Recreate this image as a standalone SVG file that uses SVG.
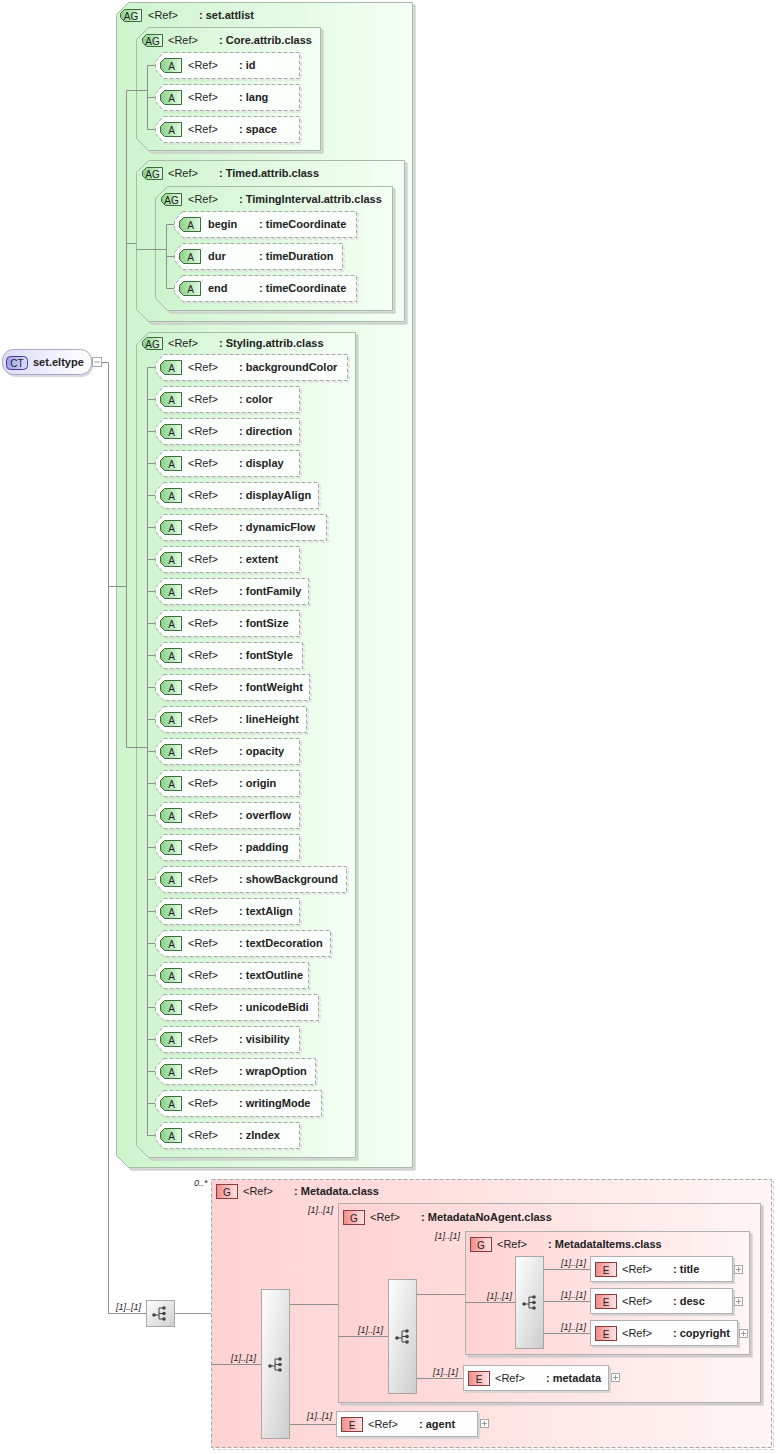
<svg xmlns="http://www.w3.org/2000/svg" width="780" height="1454" viewBox="0 0 780 1454">
<defs>
<linearGradient id="gG" x1="0" y1="0" x2="1" y2="0"><stop offset="0" stop-color="#cdf4cd"/><stop offset="1" stop-color="#f5fff5"/></linearGradient>
<linearGradient id="gP" x1="0" y1="0" x2="1" y2="0"><stop offset="0" stop-color="#ffd2d2"/><stop offset="1" stop-color="#fff5f5"/></linearGradient>
<linearGradient id="gSeq" x1="0" y1="0" x2="1" y2="1"><stop offset="0" stop-color="#ffffff"/><stop offset="1" stop-color="#cdcdcd"/></linearGradient>
<linearGradient id="gA" x1="0" y1="0" x2="1" y2="0"><stop offset="0" stop-color="#86d086"/><stop offset="1" stop-color="#e6fbe6"/></linearGradient>
<linearGradient id="gE" x1="0" y1="0" x2="1" y2="0"><stop offset="0" stop-color="#f08a8a"/><stop offset="1" stop-color="#ffe6e6"/></linearGradient>
<linearGradient id="gCT" x1="0" y1="0" x2="1" y2="0"><stop offset="0" stop-color="#9c9cec"/><stop offset="1" stop-color="#dedeff"/></linearGradient>
<linearGradient id="gCTn" x1="0" y1="0" x2="1" y2="0"><stop offset="0" stop-color="#dcdcfa"/><stop offset="1" stop-color="#ffffff"/></linearGradient>
<g id="seqIcon">
<circle cx="-6" cy="2" r="1.8" fill="#444"/>
<path d="M-6,2 H-1 M-1,-5 V6 M-1,-5 H3 M-1,0.5 H3 M-1,6 H3" stroke="#444" stroke-width="1" fill="none"/>
<circle cx="4" cy="-5" r="1.8" fill="#444"/>
<circle cx="4" cy="0.5" r="1.8" fill="#444"/>
<circle cx="4" cy="6" r="1.8" fill="#444"/>
</g>
</defs>
<style>
.t{font-family:"Liberation Sans",Arial,sans-serif;font-size:11px;fill:#222}
.b{font-weight:bold}
.bd{font-size:10px;text-anchor:middle;fill:#222}
.lb{font-family:"Liberation Sans",Arial,sans-serif;font-size:9px;font-style:italic;fill:#222}
.grp{fill:url(#gG);stroke:#a9b9a9;stroke-width:1}
.gsh{fill:#d6dcd6;stroke:#c4c4c4;stroke-width:1}
.att{fill:#fbfffb;stroke:#a8a8a8;stroke-width:1;stroke-dasharray:4 2}
.ash{fill:none;stroke:#d2d2d2;stroke-width:1;stroke-dasharray:4 2}
.bA{fill:url(#gA);stroke:#3d6b3d;stroke-width:1}
.bE{fill:url(#gE);stroke:#8a3c3c;stroke-width:1}
.pgrp{fill:url(#gP);stroke:#b0b0b0;stroke-width:1}
.psh{fill:#d8d0d0;stroke:#c4c4c4;stroke-width:1}
.el{fill:#fefefe;stroke:#b0b0b0;stroke-width:1}
.esh{fill:#d6d6d6;stroke:none}
.seq{fill:url(#gSeq);stroke:#a8a8a8;stroke-width:1}
.btn{fill:#fff;stroke:#a8a8a8;stroke-width:1}
.bl{stroke:#999;stroke-width:1;fill:none}
.c{fill:none;stroke:#8e8e8e;stroke-width:1}
</style>

<g id="set-eltype">
<rect x="5" y="352" width="88" height="25" rx="11" fill="#d8d8e4"/>
<rect x="2.5" y="349.5" width="89" height="25" rx="11" fill="url(#gCTn)" stroke="#a8a8c8"/>
<rect x="6.5" y="356.5" width="21" height="13" rx="4" fill="url(#gCT)" stroke="#404088"/>
<text class="t bd" x="17" y="367">CT</text>
<text class="t b" x="33" y="366">set.eltype</text>
<rect class="btn" x="92.5" y="357.5" width="9" height="9"/>
<path class="bl" d="M94.5,362 H99.5"/>
</g>

<g id="ag-set-attlist">
<path class="gsh" d="M131,5 H415 V1170 H131 L119,1158 V17 Z"/>
<path class="grp" d="M128.5,2.5 H412.5 V1167.5 H128.5 L116.5,1155.5 V14.5 Z"/>
<path class="bA" d="M124.5,9.5 H141.5 V21.5 H124.5 L120.5,17.5 V13.5 Z"/>
<text class="t bd" x="131" y="19.5">AG</text>
<text class="t" x="148" y="19">&lt;Ref&gt;</text>
<text class="t b" x="199" y="19">: set.attlist</text>
</g>

<g id="ag-core">
<path class="gsh" d="M151,30 H323 V153 H151 L139,141 V42 Z"/>
<path class="grp" d="M148.5,27.5 H320.5 V150.5 H148.5 L136.5,138.5 V39.5 Z"/>
<path class="bA" d="M146.5,34.5 H162.5 V46.5 H146.5 L142.5,42.5 V38.5 Z"/>
<text class="t bd" x="152.5" y="44.5">AG</text>
<text class="t" x="168" y="44">&lt;Ref&gt;</text>
<text class="t b" x="219" y="44">: Core.attrib.class</text>
</g>
<g id="a-id"><path class="ash" d="M165,54 H301 V80 H165 L157,71 V63 Z"/><path class="att" d="M163.5,52.5 H299.5 V78.5 H163.5 L155.5,69.5 V61.5 Z"/><path class="bA" d="M164.5,58.5 H181.5 V72.5 H164.5 L160.5,68.5 V62.5 Z"/><text class="t bd" x="171.5" y="69.5">A</text><text class="t" x="188" y="69">&lt;Ref&gt;</text><text class="t b" x="239" y="69">: id</text></g>
<g id="a-lang"><path class="ash" d="M165,86 H301 V112 H165 L157,103 V95 Z"/><path class="att" d="M163.5,84.5 H299.5 V110.5 H163.5 L155.5,101.5 V93.5 Z"/><path class="bA" d="M164.5,90.5 H181.5 V104.5 H164.5 L160.5,100.5 V94.5 Z"/><text class="t bd" x="171.5" y="101.5">A</text><text class="t" x="188" y="101">&lt;Ref&gt;</text><text class="t b" x="239" y="101">: lang</text></g>
<g id="a-space"><path class="ash" d="M165,118 H301 V144 H165 L157,135 V127 Z"/><path class="att" d="M163.5,116.5 H299.5 V142.5 H163.5 L155.5,133.5 V125.5 Z"/><path class="bA" d="M164.5,122.5 H181.5 V136.5 H164.5 L160.5,132.5 V126.5 Z"/><text class="t bd" x="171.5" y="133.5">A</text><text class="t" x="188" y="133">&lt;Ref&gt;</text><text class="t b" x="239" y="133">: space</text></g>

<g id="ag-timed">
<path class="gsh" d="M151,163 H407 V324 H151 L139,312 V175 Z"/>
<path class="grp" d="M148.5,160.5 H404.5 V321.5 H148.5 L136.5,309.5 V172.5 Z"/>
<path class="bA" d="M146.5,167.5 H162.5 V179.5 H146.5 L142.5,175.5 V171.5 Z"/>
<text class="t bd" x="152.5" y="177.5">AG</text>
<text class="t" x="168" y="177">&lt;Ref&gt;</text>
<text class="t b" x="219" y="177">: Timed.attrib.class</text>
</g>
<g id="ag-timinginterval">
<path class="gsh" d="M170,189 H395 V313 H170 L158,301 V201 Z"/>
<path class="grp" d="M167.5,186.5 H392.5 V310.5 H167.5 L155.5,298.5 V198.5 Z"/>
<path class="bA" d="M165.5,193.5 H181.5 V205.5 H165.5 L161.5,201.5 V197.5 Z"/>
<text class="t bd" x="171.5" y="203.5">AG</text>
<text class="t" x="188" y="203">&lt;Ref&gt;</text>
<text class="t b" x="239" y="203">: TimingInterval.attrib.class</text>
</g>
<g id="a-begin"><path class="ash" d="M184,213 H358 V239 H184 L176,230 V222 Z"/><path class="att" d="M182.5,211.5 H356.5 V237.5 H182.5 L174.5,228.5 V220.5 Z"/><path class="bA" d="M183.5,217.5 H200.5 V231.5 H183.5 L179.5,227.5 V221.5 Z"/><text class="t bd" x="190.5" y="228.5">A</text><text class="t b" x="208" y="228">begin</text><text class="t b" x="259" y="228">: timeCoordinate</text></g>
<g id="a-dur"><path class="ash" d="M184,245 H344 V271 H184 L176,262 V254 Z"/><path class="att" d="M182.5,243.5 H342.5 V269.5 H182.5 L174.5,260.5 V252.5 Z"/><path class="bA" d="M183.5,249.5 H200.5 V263.5 H183.5 L179.5,259.5 V253.5 Z"/><text class="t bd" x="190.5" y="260.5">A</text><text class="t b" x="208" y="260">dur</text><text class="t b" x="259" y="260">: timeDuration</text></g>
<g id="a-end"><path class="ash" d="M184,277 H358 V303 H184 L176,294 V286 Z"/><path class="att" d="M182.5,275.5 H356.5 V301.5 H182.5 L174.5,292.5 V284.5 Z"/><path class="bA" d="M183.5,281.5 H200.5 V295.5 H183.5 L179.5,291.5 V285.5 Z"/><text class="t bd" x="190.5" y="292.5">A</text><text class="t b" x="208" y="292">end</text><text class="t b" x="259" y="292">: timeCoordinate</text></g>

<g id="ag-styling">
<path class="gsh" d="M151,335 H358 V1160 H151 L139,1148 V347 Z"/>
<path class="grp" d="M148.5,332.5 H355.5 V1157.5 H148.5 L136.5,1145.5 V344.5 Z"/>
<path class="bA" d="M146.5,337.5 H162.5 V349.5 H146.5 L142.5,345.5 V341.5 Z"/>
<text class="t bd" x="152.5" y="347.5">AG</text>
<text class="t" x="168" y="347">&lt;Ref&gt;</text>
<text class="t b" x="219" y="347">: Styling.attrib.class</text>
</g>
<g id="a-backgroundColor"><path class="ash" d="M165,356 H349 V382 H165 L157,373 V365 Z"/><path class="att" d="M163.5,354.5 H347.5 V380.5 H163.5 L155.5,371.5 V363.5 Z"/><path class="bA" d="M164.5,360.5 H181.5 V374.5 H164.5 L160.5,370.5 V364.5 Z"/><text class="t bd" x="171.5" y="371.5">A</text><text class="t" x="188" y="371">&lt;Ref&gt;</text><text class="t b" x="239" y="371">: backgroundColor</text></g>
<g id="a-color"><path class="ash" d="M165,388 H301 V414 H165 L157,405 V397 Z"/><path class="att" d="M163.5,386.5 H299.5 V412.5 H163.5 L155.5,403.5 V395.5 Z"/><path class="bA" d="M164.5,392.5 H181.5 V406.5 H164.5 L160.5,402.5 V396.5 Z"/><text class="t bd" x="171.5" y="403.5">A</text><text class="t" x="188" y="403">&lt;Ref&gt;</text><text class="t b" x="239" y="403">: color</text></g>
<g id="a-direction"><path class="ash" d="M165,420 H301 V446 H165 L157,437 V429 Z"/><path class="att" d="M163.5,418.5 H299.5 V444.5 H163.5 L155.5,435.5 V427.5 Z"/><path class="bA" d="M164.5,424.5 H181.5 V438.5 H164.5 L160.5,434.5 V428.5 Z"/><text class="t bd" x="171.5" y="435.5">A</text><text class="t" x="188" y="435">&lt;Ref&gt;</text><text class="t b" x="239" y="435">: direction</text></g>
<g id="a-display"><path class="ash" d="M165,452 H301 V478 H165 L157,469 V461 Z"/><path class="att" d="M163.5,450.5 H299.5 V476.5 H163.5 L155.5,467.5 V459.5 Z"/><path class="bA" d="M164.5,456.5 H181.5 V470.5 H164.5 L160.5,466.5 V460.5 Z"/><text class="t bd" x="171.5" y="467.5">A</text><text class="t" x="188" y="467">&lt;Ref&gt;</text><text class="t b" x="239" y="467">: display</text></g>
<g id="a-displayAlign"><path class="ash" d="M165,484 H320 V510 H165 L157,501 V493 Z"/><path class="att" d="M163.5,482.5 H318.5 V508.5 H163.5 L155.5,499.5 V491.5 Z"/><path class="bA" d="M164.5,488.5 H181.5 V502.5 H164.5 L160.5,498.5 V492.5 Z"/><text class="t bd" x="171.5" y="499.5">A</text><text class="t" x="188" y="499">&lt;Ref&gt;</text><text class="t b" x="239" y="499">: displayAlign</text></g>
<g id="a-dynamicFlow"><path class="ash" d="M165,516 H328 V542 H165 L157,533 V525 Z"/><path class="att" d="M163.5,514.5 H326.5 V540.5 H163.5 L155.5,531.5 V523.5 Z"/><path class="bA" d="M164.5,520.5 H181.5 V534.5 H164.5 L160.5,530.5 V524.5 Z"/><text class="t bd" x="171.5" y="531.5">A</text><text class="t" x="188" y="531">&lt;Ref&gt;</text><text class="t b" x="239" y="531">: dynamicFlow</text></g>
<g id="a-extent"><path class="ash" d="M165,548 H301 V574 H165 L157,565 V557 Z"/><path class="att" d="M163.5,546.5 H299.5 V572.5 H163.5 L155.5,563.5 V555.5 Z"/><path class="bA" d="M164.5,552.5 H181.5 V566.5 H164.5 L160.5,562.5 V556.5 Z"/><text class="t bd" x="171.5" y="563.5">A</text><text class="t" x="188" y="563">&lt;Ref&gt;</text><text class="t b" x="239" y="563">: extent</text></g>
<g id="a-fontFamily"><path class="ash" d="M165,580 H310 V606 H165 L157,597 V589 Z"/><path class="att" d="M163.5,578.5 H308.5 V604.5 H163.5 L155.5,595.5 V587.5 Z"/><path class="bA" d="M164.5,584.5 H181.5 V598.5 H164.5 L160.5,594.5 V588.5 Z"/><text class="t bd" x="171.5" y="595.5">A</text><text class="t" x="188" y="595">&lt;Ref&gt;</text><text class="t b" x="239" y="595">: fontFamily</text></g>
<g id="a-fontSize"><path class="ash" d="M165,612 H301 V638 H165 L157,629 V621 Z"/><path class="att" d="M163.5,610.5 H299.5 V636.5 H163.5 L155.5,627.5 V619.5 Z"/><path class="bA" d="M164.5,616.5 H181.5 V630.5 H164.5 L160.5,626.5 V620.5 Z"/><text class="t bd" x="171.5" y="627.5">A</text><text class="t" x="188" y="627">&lt;Ref&gt;</text><text class="t b" x="239" y="627">: fontSize</text></g>
<g id="a-fontStyle"><path class="ash" d="M165,644 H304 V670 H165 L157,661 V653 Z"/><path class="att" d="M163.5,642.5 H302.5 V668.5 H163.5 L155.5,659.5 V651.5 Z"/><path class="bA" d="M164.5,648.5 H181.5 V662.5 H164.5 L160.5,658.5 V652.5 Z"/><text class="t bd" x="171.5" y="659.5">A</text><text class="t" x="188" y="659">&lt;Ref&gt;</text><text class="t b" x="239" y="659">: fontStyle</text></g>
<g id="a-fontWeight"><path class="ash" d="M165,676 H311 V702 H165 L157,693 V685 Z"/><path class="att" d="M163.5,674.5 H309.5 V700.5 H163.5 L155.5,691.5 V683.5 Z"/><path class="bA" d="M164.5,680.5 H181.5 V694.5 H164.5 L160.5,690.5 V684.5 Z"/><text class="t bd" x="171.5" y="691.5">A</text><text class="t" x="188" y="691">&lt;Ref&gt;</text><text class="t b" x="239" y="691">: fontWeight</text></g>
<g id="a-lineHeight"><path class="ash" d="M165,708 H308 V734 H165 L157,725 V717 Z"/><path class="att" d="M163.5,706.5 H306.5 V732.5 H163.5 L155.5,723.5 V715.5 Z"/><path class="bA" d="M164.5,712.5 H181.5 V726.5 H164.5 L160.5,722.5 V716.5 Z"/><text class="t bd" x="171.5" y="723.5">A</text><text class="t" x="188" y="723">&lt;Ref&gt;</text><text class="t b" x="239" y="723">: lineHeight</text></g>
<g id="a-opacity"><path class="ash" d="M165,740 H301 V766 H165 L157,757 V749 Z"/><path class="att" d="M163.5,738.5 H299.5 V764.5 H163.5 L155.5,755.5 V747.5 Z"/><path class="bA" d="M164.5,744.5 H181.5 V758.5 H164.5 L160.5,754.5 V748.5 Z"/><text class="t bd" x="171.5" y="755.5">A</text><text class="t" x="188" y="755">&lt;Ref&gt;</text><text class="t b" x="239" y="755">: opacity</text></g>
<g id="a-origin"><path class="ash" d="M165,772 H301 V798 H165 L157,789 V781 Z"/><path class="att" d="M163.5,770.5 H299.5 V796.5 H163.5 L155.5,787.5 V779.5 Z"/><path class="bA" d="M164.5,776.5 H181.5 V790.5 H164.5 L160.5,786.5 V780.5 Z"/><text class="t bd" x="171.5" y="787.5">A</text><text class="t" x="188" y="787">&lt;Ref&gt;</text><text class="t b" x="239" y="787">: origin</text></g>
<g id="a-overflow"><path class="ash" d="M165,804 H301 V830 H165 L157,821 V813 Z"/><path class="att" d="M163.5,802.5 H299.5 V828.5 H163.5 L155.5,819.5 V811.5 Z"/><path class="bA" d="M164.5,808.5 H181.5 V822.5 H164.5 L160.5,818.5 V812.5 Z"/><text class="t bd" x="171.5" y="819.5">A</text><text class="t" x="188" y="819">&lt;Ref&gt;</text><text class="t b" x="239" y="819">: overflow</text></g>
<g id="a-padding"><path class="ash" d="M165,836 H301 V862 H165 L157,853 V845 Z"/><path class="att" d="M163.5,834.5 H299.5 V860.5 H163.5 L155.5,851.5 V843.5 Z"/><path class="bA" d="M164.5,840.5 H181.5 V854.5 H164.5 L160.5,850.5 V844.5 Z"/><text class="t bd" x="171.5" y="851.5">A</text><text class="t" x="188" y="851">&lt;Ref&gt;</text><text class="t b" x="239" y="851">: padding</text></g>
<g id="a-showBackground"><path class="ash" d="M165,868 H348 V894 H165 L157,885 V877 Z"/><path class="att" d="M163.5,866.5 H346.5 V892.5 H163.5 L155.5,883.5 V875.5 Z"/><path class="bA" d="M164.5,872.5 H181.5 V886.5 H164.5 L160.5,882.5 V876.5 Z"/><text class="t bd" x="171.5" y="883.5">A</text><text class="t" x="188" y="883">&lt;Ref&gt;</text><text class="t b" x="239" y="883">: showBackground</text></g>
<g id="a-textAlign"><path class="ash" d="M165,900 H301 V926 H165 L157,917 V909 Z"/><path class="att" d="M163.5,898.5 H299.5 V924.5 H163.5 L155.5,915.5 V907.5 Z"/><path class="bA" d="M164.5,904.5 H181.5 V918.5 H164.5 L160.5,914.5 V908.5 Z"/><text class="t bd" x="171.5" y="915.5">A</text><text class="t" x="188" y="915">&lt;Ref&gt;</text><text class="t b" x="239" y="915">: textAlign</text></g>
<g id="a-textDecoration"><path class="ash" d="M165,932 H332 V958 H165 L157,949 V941 Z"/><path class="att" d="M163.5,930.5 H330.5 V956.5 H163.5 L155.5,947.5 V939.5 Z"/><path class="bA" d="M164.5,936.5 H181.5 V950.5 H164.5 L160.5,946.5 V940.5 Z"/><text class="t bd" x="171.5" y="947.5">A</text><text class="t" x="188" y="947">&lt;Ref&gt;</text><text class="t b" x="239" y="947">: textDecoration</text></g>
<g id="a-textOutline"><path class="ash" d="M165,964 H310 V990 H165 L157,981 V973 Z"/><path class="att" d="M163.5,962.5 H308.5 V988.5 H163.5 L155.5,979.5 V971.5 Z"/><path class="bA" d="M164.5,968.5 H181.5 V982.5 H164.5 L160.5,978.5 V972.5 Z"/><text class="t bd" x="171.5" y="979.5">A</text><text class="t" x="188" y="979">&lt;Ref&gt;</text><text class="t b" x="239" y="979">: textOutline</text></g>
<g id="a-unicodeBidi"><path class="ash" d="M165,996 H320 V1022 H165 L157,1013 V1005 Z"/><path class="att" d="M163.5,994.5 H318.5 V1020.5 H163.5 L155.5,1011.5 V1003.5 Z"/><path class="bA" d="M164.5,1000.5 H181.5 V1014.5 H164.5 L160.5,1010.5 V1004.5 Z"/><text class="t bd" x="171.5" y="1011.5">A</text><text class="t" x="188" y="1011">&lt;Ref&gt;</text><text class="t b" x="239" y="1011">: unicodeBidi</text></g>
<g id="a-visibility"><path class="ash" d="M165,1028 H301 V1054 H165 L157,1045 V1037 Z"/><path class="att" d="M163.5,1026.5 H299.5 V1052.5 H163.5 L155.5,1043.5 V1035.5 Z"/><path class="bA" d="M164.5,1032.5 H181.5 V1046.5 H164.5 L160.5,1042.5 V1036.5 Z"/><text class="t bd" x="171.5" y="1043.5">A</text><text class="t" x="188" y="1043">&lt;Ref&gt;</text><text class="t b" x="239" y="1043">: visibility</text></g>
<g id="a-wrapOption"><path class="ash" d="M165,1060 H317 V1086 H165 L157,1077 V1069 Z"/><path class="att" d="M163.5,1058.5 H315.5 V1084.5 H163.5 L155.5,1075.5 V1067.5 Z"/><path class="bA" d="M164.5,1064.5 H181.5 V1078.5 H164.5 L160.5,1074.5 V1068.5 Z"/><text class="t bd" x="171.5" y="1075.5">A</text><text class="t" x="188" y="1075">&lt;Ref&gt;</text><text class="t b" x="239" y="1075">: wrapOption</text></g>
<g id="a-writingMode"><path class="ash" d="M165,1092 H323 V1118 H165 L157,1109 V1101 Z"/><path class="att" d="M163.5,1090.5 H321.5 V1116.5 H163.5 L155.5,1107.5 V1099.5 Z"/><path class="bA" d="M164.5,1096.5 H181.5 V1110.5 H164.5 L160.5,1106.5 V1100.5 Z"/><text class="t bd" x="171.5" y="1107.5">A</text><text class="t" x="188" y="1107">&lt;Ref&gt;</text><text class="t b" x="239" y="1107">: writingMode</text></g>
<g id="a-zIndex"><path class="ash" d="M165,1124 H301 V1150 H165 L157,1141 V1133 Z"/><path class="att" d="M163.5,1122.5 H299.5 V1148.5 H163.5 L155.5,1139.5 V1131.5 Z"/><path class="bA" d="M164.5,1128.5 H181.5 V1142.5 H164.5 L160.5,1138.5 V1132.5 Z"/><text class="t bd" x="171.5" y="1139.5">A</text><text class="t" x="188" y="1139">&lt;Ref&gt;</text><text class="t b" x="239" y="1139">: zIndex</text></g>

<g id="seq-main">
<rect class="seq" x="146.5" y="1300.5" width="28" height="26"/>
<use href="#seqIcon" x="160" y="1313"/>
</g>

<g id="g-metadata">
<rect x="213.5" y="1181.5" width="560" height="268" fill="none" stroke="#cfcfcf" stroke-dasharray="4 2"/>
<rect x="211.5" y="1179.5" width="560" height="268" fill="url(#gP)" stroke="#a8a8a8" stroke-dasharray="4 2"/>
<rect class="bE" x="216.5" y="1184.5" width="21" height="14"/>
<text class="t bd" x="227" y="1195.5">G</text>
<text class="t" x="243" y="1195">&lt;Ref&gt;</text>
<text class="t b" x="294" y="1195">: Metadata.class</text>
</g>
<g id="seq-metadata">
<rect class="seq" x="261.5" y="1289.5" width="28" height="149"/>
<use href="#seqIcon" x="276" y="1364"/>
</g>

<g id="g-metadatanoagent">
<rect class="psh" x="341" y="1206" width="422" height="199"/>
<rect class="pgrp" x="338.5" y="1203.5" width="422" height="199"/>
<rect class="bE" x="343.5" y="1210.5" width="21" height="14"/>
<text class="t bd" x="354" y="1221.5">G</text>
<text class="t" x="370" y="1221">&lt;Ref&gt;</text>
<text class="t b" x="421" y="1221">: MetadataNoAgent.class</text>
</g>
<g id="seq-noagent">
<rect class="seq" x="388.5" y="1279.5" width="28" height="114"/>
<use href="#seqIcon" x="403" y="1336"/>
</g>

<g id="g-metadataitems">
<rect class="psh" x="468" y="1234" width="284" height="123"/>
<rect class="pgrp" x="465.5" y="1231.5" width="284" height="123"/>
<rect class="bE" x="470.5" y="1237.5" width="21" height="14"/>
<text class="t bd" x="481" y="1248.5">G</text>
<text class="t" x="497" y="1248">&lt;Ref&gt;</text>
<text class="t b" x="548" y="1248">: MetadataItems.class</text>
</g>
<g id="seq-items">
<rect class="seq" x="515.5" y="1256.5" width="28" height="92"/>
<use href="#seqIcon" x="530" y="1302"/>
</g>

<g id="e-title">
<rect class="esh" x="592" y="1258" width="143" height="26"/>
<rect class="el" x="590.5" y="1256.5" width="142" height="25"/>
<rect class="bE" x="595.5" y="1262.5" width="21" height="14"/>
<text class="t bd" x="606" y="1273.5">E</text>
<text class="t" x="622" y="1273">&lt;Ref&gt;</text>
<text class="t b" x="673" y="1273">: title</text>
<rect class="btn" x="734.5" y="1265.5" width="8" height="8"/><path class="bl" d="M736,1269.5 H741 M738.5,1267 V1272"/>
</g>
<g id="e-desc">
<rect class="esh" x="592" y="1290" width="143" height="26"/>
<rect class="el" x="590.5" y="1288.5" width="142" height="25"/>
<rect class="bE" x="595.5" y="1294.5" width="21" height="14"/>
<text class="t bd" x="606" y="1305.5">E</text>
<text class="t" x="622" y="1305">&lt;Ref&gt;</text>
<text class="t b" x="673" y="1305">: desc</text>
<rect class="btn" x="734.5" y="1297.5" width="8" height="8"/><path class="bl" d="M736,1301.5 H741 M738.5,1299 V1304"/>
</g>
<g id="e-copyright">
<rect class="esh" x="592" y="1322" width="148" height="26"/>
<rect class="el" x="590.5" y="1320.5" width="147" height="25"/>
<rect class="bE" x="595.5" y="1326.5" width="21" height="14"/>
<text class="t bd" x="606" y="1337.5">E</text>
<text class="t" x="622" y="1337">&lt;Ref&gt;</text>
<text class="t b" x="673" y="1337">: copyright</text>
<rect class="btn" x="739.5" y="1329.5" width="8" height="8"/><path class="bl" d="M741,1333.5 H746 M743.5,1331 V1336"/>
</g>
<g id="e-metadata">
<rect class="esh" x="465" y="1367" width="146" height="26"/>
<rect class="el" x="463.5" y="1365.5" width="145" height="25"/>
<rect class="bE" x="468.5" y="1371.5" width="21" height="14"/>
<text class="t bd" x="479" y="1382.5">E</text>
<text class="t" x="495" y="1382">&lt;Ref&gt;</text>
<text class="t b" x="546" y="1382">: metadata</text>
<rect class="btn" x="611.5" y="1373.5" width="8" height="8"/><path class="bl" d="M613,1377.5 H618 M615.5,1375 V1380"/>
</g>
<g id="e-agent">
<rect class="esh" x="338" y="1413" width="142" height="26"/>
<rect class="el" x="336.5" y="1411.5" width="141" height="25"/>
<rect class="bE" x="341.5" y="1417.5" width="21" height="14"/>
<text class="t bd" x="352" y="1428.5">E</text>
<text class="t" x="368" y="1428">&lt;Ref&gt;</text>
<text class="t b" x="419" y="1428">: agent</text>
<rect class="btn" x="480.5" y="1419.5" width="8" height="8"/><path class="bl" d="M482,1423.5 H487 M484.5,1421 V1426"/>
</g>

<g id="connectors">
<path class="c" d="M102,362.5 H108.5 V1313.5 H146"/>
<path class="c" d="M108.5,586.5 H126.5"/>
<path class="c" d="M126.5,90.5 V747.5"/>
<path class="c" d="M126.5,90.5 H147.5"/>
<path class="c" d="M126.5,243.5 H136.5 M136.5,249.5 H166.5"/>
<path class="c" d="M126.5,747.5 H147.5"/>
<path class="c" d="M147.5,65.5 V129.5 M147.5,65.5 H155 M147.5,97.5 H155 M147.5,129.5 H155"/>
<path class="c" d="M166.5,224.5 V288.5 M166.5,224.5 H174 M166.5,256.5 H174 M166.5,288.5 H174"/>
<path class="c" d="M147.5,367.5 V1135.5 M147.5,367.5 H155 M147.5,399.5 H155 M147.5,431.5 H155 M147.5,463.5 H155 M147.5,495.5 H155 M147.5,527.5 H155 M147.5,559.5 H155 M147.5,591.5 H155 M147.5,623.5 H155 M147.5,655.5 H155 M147.5,687.5 H155 M147.5,719.5 H155 M147.5,751.5 H155 M147.5,783.5 H155 M147.5,815.5 H155 M147.5,847.5 H155 M147.5,879.5 H155 M147.5,911.5 H155 M147.5,943.5 H155 M147.5,975.5 H155 M147.5,1007.5 H155 M147.5,1039.5 H155 M147.5,1071.5 H155 M147.5,1103.5 H155 M147.5,1135.5 H155"/>
<path class="c" d="M175,1313.5 H211"/>
<path class="c" d="M211,1364.5 H261"/>
<path class="c" d="M290,1304.5 H338 M290,1424.5 H336"/>
<path class="c" d="M338,1336.5 H388"/>
<path class="c" d="M417,1294.5 H465 M417,1378.5 H463"/>
<path class="c" d="M465,1302.5 H515"/>
<path class="c" d="M544,1269.5 H590 M544,1301.5 H590 M544,1333.5 H590"/>
<text class="lb" x="116" y="1310">[1]..[1]</text>
<text class="lb" x="194" y="1186">0..*</text>
<text class="lb" x="231" y="1361">[1]..[1]</text>
<text class="lb" x="308" y="1213">[1]..[1]</text>
<text class="lb" x="307" y="1419">[1]..[1]</text>
<text class="lb" x="358" y="1333">[1]..[1]</text>
<text class="lb" x="435" y="1239">[1]..[1]</text>
<text class="lb" x="433" y="1375">[1]..[1]</text>
<text class="lb" x="487" y="1299">[1]..[1]</text>
<text class="lb" x="561" y="1266">[1]..[1]</text>
<text class="lb" x="561" y="1298">[1]..[1]</text>
<text class="lb" x="561" y="1330">[1]..[1]</text>
</g>
</svg>
